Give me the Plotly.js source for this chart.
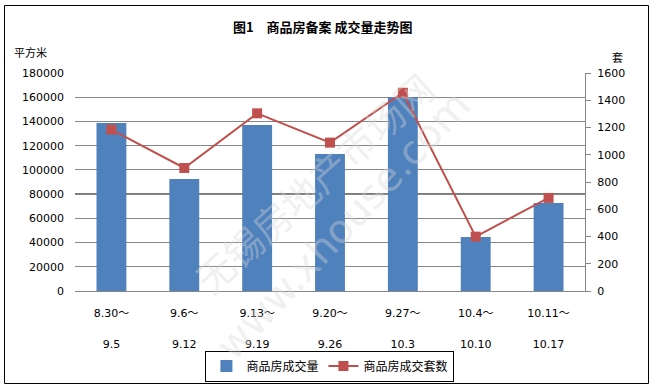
<!DOCTYPE html>
<html>
<head>
<meta charset="utf-8">
<script src="https://cdn.plot.ly/plotly-3.0.1.min.js"></script>
<style>
  html, body { margin: 0; padding: 0; background: #fff; }
  #chart { width: 652px; height: 387px; }
</style>
</head>
<body>
<div id="chart"></div>
<script>
// ---- data ----
const periods = ["8.30～9.5", "9.6～9.12", "9.13～9.19", "9.20～9.26", "9.27～10.3", "10.4～10.10", "10.11～10.17"];
const periodStart = ["8.30～", "9.6～", "9.13～", "9.20～", "9.27～", "10.4～", "10.11～"];
const periodEnd = ["9.5", "9.12", "9.19", "9.26", "10.3", "10.10", "10.17"];
const areaSold = [138800, 92500, 137100, 113100, 160200, 44600, 72700];   // 平方米
const unitsSold = [1185, 903, 1304, 1089, 1455, 399, 683];               // 套
const leftTicks = [0, 20000, 40000, 60000, 80000, 100000, 120000, 140000, 160000, 180000];
const rightTicks = [0, 200, 400, 600, 800, 1000, 1200, 1400, 1600];

const CJK = '"Noto Sans CJK SC", "DejaVu Sans", sans-serif';
const NUM = '"DejaVu Sans", "Noto Sans CJK SC", sans-serif';
const gridCol = '#878787';
const idx = periods.map((_, i) => i);

const traces = [
  {
    type: 'bar', name: '商品房成交量', x: periods, y: areaSold,
    marker: { color: '#4F81BD' }, xaxis: 'x', yaxis: 'y'
  },
  {
    type: 'scatter', mode: 'lines+markers', name: '商品房成交套数',
    x: periods, y: unitsSold, xaxis: 'x', yaxis: 'y2',
    line: { color: '#C0504D', width: 2 },
    marker: { symbol: 'square', size: 10, color: '#C0504D' }
  },
  // carrier for the second row of period labels (draws nothing)
  {
    type: 'scatter', mode: 'none', x: idx, y: unitsSold, xaxis: 'x2', yaxis: 'y2',
    showlegend: false, hoverinfo: 'skip'
  }
];

const layout = {
  width: 652, height: 387,
  margin: { l: 75, r: 67, t: 73, b: 96 },
  paper_bgcolor: '#fff', plot_bgcolor: '#fff',
  font: { family: NUM, size: 11, color: '#000' },
  title: {
    text: '<b>图1　商品房备案 成交量走势图</b>',
    font: { family: CJK, size: 13, color: '#000' },
    xref: 'container', x: 0.495, xanchor: 'center',
    yref: 'container', y: 1 - 27.5 / 387, yanchor: 'middle'
  },
  bargap: 0.59,
  showlegend: true,
  legend: {
    orientation: 'h', xref: 'container', x: 0.506, xanchor: 'center',
    yref: 'container', y: 1 - 366 / 387, yanchor: 'middle',
    font: { family: CJK, size: 12, color: '#000' },
    bordercolor: '#000', borderwidth: 1, bgcolor: '#fff',
    itemwidth: 30, tracegroupgap: 0
  },
  xaxis: {
    type: 'category', tickvals: periods, ticktext: periodStart,
    showgrid: false, showline: true, linecolor: gridCol, linewidth: 1,
    ticks: '', ticklabelstandoff: 12, zeroline: false,
    tickfont: { family: NUM, size: 11, color: '#000' }
  },
  xaxis2: {
    type: 'linear', overlaying: 'x', anchor: 'y', side: 'bottom',
    range: [-0.5, periods.length - 0.5],
    tickvals: idx, ticktext: periodEnd,
    showgrid: false, showline: false, zeroline: false, ticks: '',
    ticklabelstandoff: 45,
    tickfont: { family: NUM, size: 11, color: '#000' }
  },
  yaxis: {
    range: [0, 180000], tickvals: leftTicks, ticktext: leftTicks.map(String),
    showgrid: true, gridcolor: gridCol, gridwidth: 1,
    showline: false, zeroline: false, ticks: '', ticklabelstandoff: 10,
    tickfont: { family: NUM, size: 11, color: '#000' }
  },
  yaxis2: {
    range: [0, 1600], tickvals: rightTicks, ticktext: rightTicks.map(String),
    overlaying: 'y', side: 'right', showgrid: false, zeroline: false,
    showline: true, linecolor: gridCol, linewidth: 1,
    ticks: 'outside', ticklen: 5, tickcolor: gridCol, ticklabelstandoff: 4,
    tickfont: { family: NUM, size: 11, color: '#000' }
  },
  shapes: [
    { type: 'line', xref: 'paper', yref: 'y', x0: 0, x1: 1, y0: 80000, y1: 80000,
      line: { color: '#7a7a7a', width: 2 }, layer: 'below' },
    { type: 'rect', xref: 'paper', yref: 'paper',
      x0: (4.5 - 75) / 510, x1: (648.5 - 75) / 510,
      y0: (291 - 383.5) / 218, y1: (291 - 5.5) / 218,
      line: { color: '#000', width: 1 }, fillcolor: 'rgba(0,0,0,0)' }
  ],
  annotations: [
    { text: '平方米', xref: 'paper', yref: 'paper', x: (30 - 75) / 510, y: (291 - 52.5) / 218,
      showarrow: false, xanchor: 'center', yanchor: 'middle',
      font: { family: CJK, size: 11, color: '#000' } },
    { text: '套', xref: 'paper', yref: 'paper', x: (617 - 75) / 510, y: (291 - 57) / 218,
      showarrow: false, xanchor: 'center', yanchor: 'middle',
      font: { family: CJK, size: 11, color: '#000' } },
    { text: '无锡房地产市场网', xref: 'paper', yref: 'paper', x: (313 - 75) / 510, y: (291 - 182) / 218,
      showarrow: false, textangle: -42, xanchor: 'center', yanchor: 'middle',
      font: { family: CJK, size: 38, color: 'rgba(215,215,215,0.4)' } },
    { text: 'www.xhouse.com', xref: 'paper', yref: 'paper', x: (343 - 75) / 510, y: (291 - 225) / 218,
      showarrow: false, textangle: -47, xanchor: 'center', yanchor: 'middle',
      font: { family: '"DejaVu Sans", sans-serif', size: 40, color: 'rgba(215,215,215,0.4)' } }
  ]
};

Plotly.newPlot('chart', traces, layout, { displayModeBar: false, staticPlot: true });
</script>
</body>
</html>
